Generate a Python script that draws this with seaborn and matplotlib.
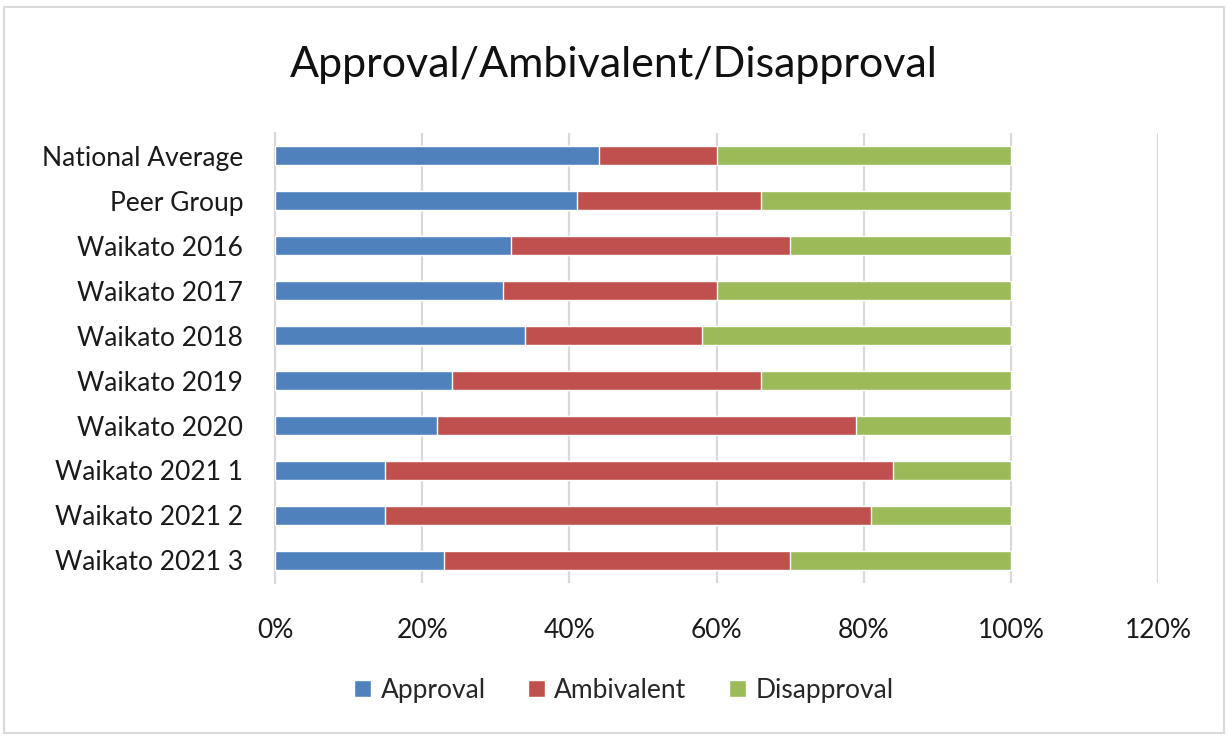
import numpy as np
import pandas as pd
import matplotlib.pyplot as plt
import seaborn as sns
from matplotlib.patches import Patch, Rectangle
from matplotlib.ticker import PercentFormatter

# Datos (porcentajes)
groups = ["National Average", "Peer Group", "Waikato 2016", "Waikato 2017",
          "Waikato 2018", "Waikato 2019", "Waikato 2020", "Waikato 2021 1",
          "Waikato 2021 2", "Waikato 2021 3"]
approval = [44, 41, 32, 31, 34, 24, 22, 15, 15, 23]
ambivalent = [16, 25, 38, 29, 24, 42, 57, 69, 66, 47]
disapproval = [40, 34, 30, 40, 42, 34, 21, 16, 19, 30]

series = ["Approval", "Ambivalent", "Disapproval"]
colors = ["#4F81BD", "#C0504D", "#9BBB59"]

df = pd.DataFrame({"Group": groups, "Approval": approval,
                   "Ambivalent": ambivalent, "Disapproval": disapproval})
# acumulados para apilar las barras
df["cum_app"] = df["Approval"]
df["cum_amb"] = df["Approval"] + df["Ambivalent"]
df["cum_dis"] = df["cum_amb"] + df["Disapproval"]

sns.set_theme(style="white")
plt.rcParams["font.family"] = ["Lato", "DejaVu Sans"]

fig = plt.figure(figsize=(12.28, 7.36), dpi=100)
ax = fig.add_axes([0.224, 0.208, 0.719, 0.611])

# dibujamos de la más larga a la más corta
for col, color in zip(["cum_dis", "cum_amb", "cum_app"], colors[::-1]):
    sns.barplot(data=df, x=col, y="Group", orient="h", color=color,
                width=0.42, saturation=1, ax=ax, zorder=3)

ax.set_xlim(0, 120)
ax.set_xticks(np.arange(0, 121, 20))
ax.xaxis.set_major_formatter(PercentFormatter(decimals=0))
ax.set_xlabel("")
ax.set_ylabel("")
ax.grid(axis="x", color="#D9D9D9", linewidth=1.6, zorder=0)
ax.grid(axis="y", visible=False)
for side in ["top", "right", "bottom"]:
    ax.spines[side].set_visible(False)
ax.spines["left"].set_color("#D9D9D9")
ax.spines["left"].set_linewidth(1.6)
ax.tick_params(axis="both", length=0, labelsize=19, colors="#1a1a1a")
ax.tick_params(axis="y", pad=23)
ax.tick_params(axis="x", pad=25)

fig.suptitle("Approval/Ambivalent/Disapproval", fontsize=31, y=0.937,
             color="#111111")

handles = [Patch(facecolor=c, label=s) for s, c in zip(series, colors)]
fig.legend(handles=handles, loc="center", bbox_to_anchor=(0.508, 0.062),
           ncol=3, frameon=False, fontsize=19, handlelength=0.65,
           handleheight=0.65, handletextpad=0.35, columnspacing=1.6)

# borde exterior del área del gráfico
fig.patches.append(Rectangle((0.003, 0.004), 0.994, 0.987, transform=fig.transFigure,
                             fill=False, edgecolor="#D9D9D9", linewidth=1.5))

plt.savefig("out.png", dpi=100)
plt.close()
